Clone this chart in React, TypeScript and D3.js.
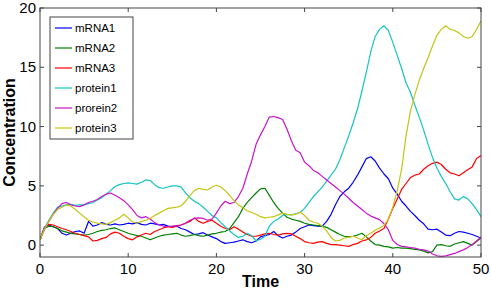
import { scaleLinear, line, range } from "d3";

// sample times 0, 0.5, ..., 50
const times = range(0, 50.01, 0.5);

const seriesNames = ["mRNA1", "mRNA2", "mRNA3", "protein1", "prorein2", "protein3"];
const seriesColors = ["#0000ff", "#008000", "#ff0000", "#14c4c4", "#c814c8", "#c4c414"];

const mRNA1 = [
  0.45, 1.5, 1.7, 1.55, 1.4, 1.0, 0.85, 1.0, 1.15, 1.2, 1.0, 2.0, 1.6, 1.7, 1.9, 1.75, 1.7, 1.8, 1.7, 1.75,
  1.85, 1.8, 1.9, 1.75, 1.7, 1.85, 1.8, 1.7, 1.75, 1.6, 1.55, 1.6, 1.4, 1.3, 1.1, 0.9, 0.95, 1.05, 0.85, 0.7,
  0.55, 0.3, 0.15, 0.2, 0.25, 0.35, 0.45, 0.3, 0.2, 0.35, 0.7, 0.8, 0.9, 1.15, 0.8, 0.6, 0.75, 0.85, 1.1, 1.4,
  1.55, 1.7, 1.65, 1.6, 1.6, 2.0, 2.6, 3.4, 4.1, 4.5, 4.8, 5.3, 5.9, 6.6, 7.3, 7.45, 7.1, 6.5, 6.0, 5.6,
  4.8, 4.3, 3.7, 3.3, 2.85, 2.5, 2.1, 1.8, 1.35, 1.3, 1.35, 1.1, 0.85, 0.8, 1.0, 1.15, 1.1, 1.0, 0.9, 0.75,
  0.6,
];

const mRNA2 = [
  0.45, 1.4, 1.6, 1.55, 1.4, 1.2, 1.1, 1.0, 0.95, 0.9, 0.85, 0.9, 1.0, 1.15, 1.25, 1.3, 1.4, 1.45, 1.3, 1.15,
  1.0, 0.9, 0.8, 0.75, 0.6, 0.45, 0.6, 0.75, 0.85, 0.9, 0.95, 1.0, 0.85, 0.75, 0.8, 0.9, 0.8, 0.75, 0.85, 0.95,
  1.0, 1.1, 1.15, 1.4, 1.9, 2.4, 3.1, 3.6, 4.0, 4.4, 4.75, 4.8, 4.2, 3.6, 3.1, 2.7, 2.35, 2.2, 2.1, 2.0,
  1.85, 1.75, 1.7, 1.65, 1.6, 1.5, 1.3, 1.1, 0.9, 0.75, 0.7, 0.75, 0.85, 1.0, 0.7, 0.35, 0.05, 0.0, -0.1, -0.15,
  -0.25, -0.2, -0.25, -0.25, -0.3, -0.35, -0.4, -0.5, -0.65, -0.55, 0.0, 0.05, -0.05, -0.1, 0.1, 0.2, 0.3, 0.15, 0.0, 0.3,
  0.6,
];

const mRNA3 = [
  0.45, 1.5, 1.75, 1.7, 1.55, 1.4, 1.3, 1.15, 1.0, 0.9, 0.8, 0.7, 0.35, 0.4, 0.55, 0.65, 0.95, 1.1, 1.0, 0.75,
  0.55, 0.45, 0.7, 0.85, 1.0, 0.9, 1.15, 1.3, 1.45, 1.55, 1.5, 1.6, 1.7, 1.85, 2.0, 2.3, 2.0, 1.85, 2.0, 2.1,
  1.85, 1.6, 1.4, 1.3, 1.55, 1.35, 1.1, 0.9, 0.75, 0.75, 0.85, 0.95, 1.0, 0.9, 0.85, 0.95, 1.0, 0.95, 0.75, 0.55,
  0.3, 0.2, 0.15, 0.25, 0.3, 0.15, 0.05, 0.05, 0.0, -0.05, -0.1, 0.05, 0.15, 0.35, 0.45, 0.65, 1.0, 1.2, 1.4, 2.2,
  3.1, 3.9, 4.7, 5.2, 5.7, 5.9, 6.0, 6.4, 6.7, 6.9, 7.0, 6.8, 6.4, 6.1, 6.0, 5.85, 6.1, 6.35, 6.6, 7.3,
  7.55,
];

const protein1 = [
  0.45, 1.4, 2.1, 2.7, 3.2, 3.3, 3.4, 3.45, 3.35, 3.4, 3.4, 3.5, 3.6, 3.8, 4.0, 4.3, 4.6, 4.95, 5.1, 5.2,
  5.25, 5.2, 5.15, 5.3, 5.5, 5.45, 5.1, 4.85, 4.8, 4.9, 5.0, 5.0, 4.9, 4.4, 4.0, 3.7, 3.5, 3.2, 2.85, 2.5,
  2.3, 1.9, 1.55, 1.2, 0.9, 0.65, 0.75, 1.0, 0.8, 0.35, 0.5, 0.75, 1.6, 2.0, 2.2, 2.5, 2.6, 2.55, 2.65, 2.75,
  3.1, 3.6, 4.1, 4.5, 4.9, 5.4, 5.9, 6.4, 7.2, 8.2, 9.2, 10.3, 11.5, 13.0, 14.6, 16.3, 17.6, 18.2, 18.5, 18.1,
  17.1, 16.0, 14.9, 13.7, 12.9, 11.8, 10.8, 9.7, 8.5, 7.4, 6.5, 5.8, 5.2, 4.5, 3.9, 3.8, 4.1, 3.9, 3.5, 3.0,
  2.4,
];

const prorein2 = [
  0.45, 1.3, 2.0, 2.6, 3.1, 3.5, 3.6, 3.4, 3.3, 3.25, 3.4, 3.6, 3.7, 3.85, 4.1, 4.3, 4.4, 4.2, 4.0, 3.75,
  3.4, 3.0, 2.5, 2.3, 2.4, 2.2, 1.9, 1.7, 1.6, 1.55, 1.6, 1.65, 1.7, 1.85, 2.1, 2.25, 2.3, 2.25, 2.1, 2.2,
  2.7, 3.3, 3.7, 3.5, 3.6, 4.1, 4.8, 6.0, 7.1, 8.5, 9.3, 10.0, 10.8, 10.85, 10.75, 10.6, 9.8, 8.8, 8.0, 7.8,
  7.0, 6.7, 6.3, 6.1, 5.8, 5.5, 5.2, 4.9, 4.6, 4.3, 3.95, 3.6, 3.3, 3.0, 2.7, 2.45, 2.3, 2.15, 1.8, 1.3,
  0.4, 0.05, -0.1, -0.15, -0.2, -0.25, -0.35, -0.4, -0.5, -0.75, -0.9, -0.95, -0.9, -0.8, -0.7, -0.55, -0.4, -0.2, 0.05, 0.35,
  0.7,
];

const protein3 = [
  0.45, 1.3, 2.0, 2.6, 3.0, 3.2, 3.4, 3.3, 3.0, 2.7, 2.4, 2.1, 1.95, 1.85, 1.8, 1.75, 1.9, 2.1, 2.3, 2.6,
  2.3, 1.95, 1.85, 2.0, 2.1, 2.25, 2.5, 2.7, 2.9, 3.1, 3.15, 3.2, 3.3, 3.7, 4.2, 4.6, 4.8, 4.7, 4.65, 4.9,
  5.05, 4.9, 4.6, 4.2, 3.75, 3.4, 3.15, 2.9, 2.75, 2.6, 2.4, 2.3, 2.35, 2.4, 2.55, 2.7, 2.6, 2.55, 2.6, 2.8,
  2.5, 2.1, 1.95, 1.85, 1.6, 1.2, 0.65, 0.35, 0.4, 0.6, 0.65, 0.75, 0.6, 0.45, 0.8, 1.0, 1.25, 1.45, 1.65, 2.2,
  3.2, 4.6, 6.4, 9.2, 11.3, 12.7, 13.9, 14.9, 15.8, 16.8, 17.7, 18.2, 18.5, 18.2, 18.1, 17.9, 17.6, 17.45, 17.6, 18.2,
  18.9,
];

const seriesValues = [mRNA1, mRNA2, mRNA3, protein1, prorein2, protein3];

const xTicks = [0, 10, 20, 30, 40, 50];
const yTicks = [0, 5, 10, 15, 20];

const App = () => {
  const width = 491;
  const height = 289;
  const margin = { top: 8, right: 10, bottom: 32, left: 40 };
  const x = scaleLinear().domain([0, 50]).range([margin.left, width - margin.right]);
  const y = scaleLinear().domain([-1, 20]).range([height - margin.bottom, margin.top]);
  const font = "'Liberation Sans', Arial, sans-serif";
  const axisColor = "#444";

  const path = line<number>()
    .x((_, i) => x(times[i]))
    .y((d) => y(d));

  const legendX = 50;
  const legendY = 17;
  const legendRow = 20;

  return (
    <svg
      width={width}
      height={height}
      style={{ position: "absolute", left: 0, top: 0, background: "#fff" }}
      fontFamily={font}
    >
      <defs>
        <clipPath id="plot">
          <rect x={x(0)} y={y(20)} width={x(50) - x(0)} height={y(-1) - y(20)} />
        </clipPath>
      </defs>
      <rect x={x(0)} y={y(20)} width={x(50) - x(0)} height={y(-1) - y(20)} fill="#fff" />

      <g clipPath="url(#plot)">
        {seriesValues.map((vals, i) => (
          <path
            key={seriesNames[i]}
            d={path(vals) ?? ""}
            fill="none"
            stroke={seriesColors[i]}
            strokeWidth={1.2}
            strokeLinejoin="round"
          />
        ))}
      </g>

      {/* frame and inward ticks */}
      <rect
        x={x(0)}
        y={y(20)}
        width={x(50) - x(0)}
        height={y(-1) - y(20)}
        fill="none"
        stroke={axisColor}
        strokeWidth={1}
      />
      {xTicks.map((t) => (
        <g key={"x" + t}>
          <line x1={x(t)} x2={x(t)} y1={y(-1)} y2={y(-1) - 4} stroke={axisColor} />
          <line x1={x(t)} x2={x(t)} y1={y(20)} y2={y(20) + 4} stroke={axisColor} />
          <text x={x(t)} y={y(-1) + 17} fontSize={15} textAnchor="middle" fill="#000">
            {t}
          </text>
        </g>
      ))}
      {yTicks.map((t) => (
        <g key={"y" + t}>
          <line x1={x(0)} x2={x(0) + 4} y1={y(t)} y2={y(t)} stroke={axisColor} />
          <line x1={x(50)} x2={x(50) - 4} y1={y(t)} y2={y(t)} stroke={axisColor} />
          <text x={x(0) - 4} y={y(t) + 5} fontSize={15} textAnchor="end" fill="#000">
            {t}
          </text>
        </g>
      ))}

      <text x={(x(0) + x(50)) / 2} y={287} fontSize={16} fontWeight="bold" textAnchor="middle">
        Time
      </text>
      <text
        transform={`translate(15, ${(y(-1) + y(20)) / 2}) rotate(-90)`}
        fontSize={16}
        fontWeight="bold"
        textAnchor="middle"
      >
        Concentration
      </text>

      {/* legend */}
      <rect
        x={legendX}
        y={legendY}
        width={83}
        height={122}
        fill="#fff"
        stroke={axisColor}
        strokeWidth={1}
      />
      {seriesNames.map((name, i) => {
        const cy = legendY + 11 + i * legendRow;
        return (
          <g key={"leg" + name}>
            <line x1={legendX + 5} x2={legendX + 22} y1={cy} y2={cy} stroke={seriesColors[i]} strokeWidth={1.2} />
            <text x={legendX + 25} y={cy + 4} fontSize={11.5} fill="#000">
              {name}
            </text>
          </g>
        );
      })}
    </svg>
  );
};

export default App;
